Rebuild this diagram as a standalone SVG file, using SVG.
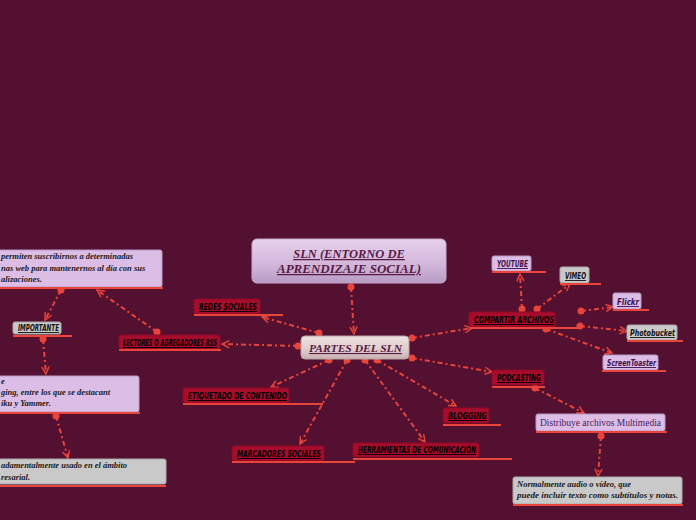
<svg xmlns="http://www.w3.org/2000/svg" width="696" height="520" viewBox="0 0 696 520">
<defs>
<linearGradient id="gRoot" x1="0" y1="0" x2="0" y2="1"><stop offset="0" stop-color="#e6d0ec"/><stop offset="0.6" stop-color="#d2b6da"/><stop offset="1" stop-color="#b89ac2"/></linearGradient>
<linearGradient id="gMain" x1="0" y1="0" x2="0" y2="1"><stop offset="0" stop-color="#f0e2e2"/><stop offset="0.6" stop-color="#e0cccc"/><stop offset="1" stop-color="#c8b0b2"/></linearGradient>
<marker id="ah" viewBox="0 0 10 10" refX="9" refY="5" markerWidth="9" markerHeight="9" markerUnits="userSpaceOnUse" orient="auto"><path d="M1,1 L9,5 L1,9" fill="none" stroke="#e8443a" stroke-width="1.6"/></marker>
<style>
.bg{fill:#541030}
.red{fill:#a80c2c;stroke:#8a0a24;stroke-width:1}
.lav{fill:#dcbde6;stroke:#b898c4;stroke-width:1}
.gray{fill:#c9c9c9;stroke:#a8a8a8;stroke-width:1}
.ul{stroke:#e8443a;stroke-width:2}
.rt{font-family:"DejaVu Sans Condensed","DejaVu Sans",sans-serif;font-weight:bold;font-style:italic;font-size:9px;fill:#000;text-decoration:underline}
.lt{font-family:"DejaVu Sans Condensed","DejaVu Sans",sans-serif;font-weight:bold;font-style:italic;font-size:9px;fill:#3a1050;text-decoration:underline}
.gt{font-family:"DejaVu Sans Condensed","DejaVu Sans",sans-serif;font-weight:bold;font-style:italic;font-size:9px;fill:#111;text-decoration:underline}
.dt{font-family:"Liberation Serif",serif;font-weight:bold;font-style:italic;font-size:8.5px;fill:#1a1a1a}
.c{fill:none;stroke:#e8443a;stroke-width:2;stroke-dasharray:5,3,2,3;marker-end:url(#ah)}
.dot{fill:#e8443a}
</style>
</defs>
<rect class="bg" x="0" y="0" width="696" height="520"/>

<g id="connectors">
<line class="c" x1="351" y1="287" x2="354" y2="334"/>
<line class="c" x1="319" y1="333" x2="262" y2="317"/>
<line class="c" x1="298" y1="346" x2="222" y2="344"/>
<line class="c" x1="329" y1="360" x2="271" y2="387"/>
<line class="c" x1="347" y1="360" x2="300" y2="444"/>
<line class="c" x1="365" y1="360" x2="425" y2="442"/>
<line class="c" x1="377" y1="360" x2="456" y2="406"/>
<line class="c" x1="412" y1="358" x2="492" y2="372"/>
<line class="c" x1="412" y1="338" x2="472" y2="328"/>
<line class="c" x1="157" y1="332" x2="97" y2="290"/>
<line class="c" x1="61" y1="290" x2="45" y2="320"/>
<line class="c" x1="43" y1="339" x2="46" y2="374"/>
<line class="c" x1="56" y1="416" x2="68" y2="458"/>
<line class="c" x1="522" y1="309" x2="520" y2="274"/>
<line class="c" x1="537" y1="309" x2="570" y2="284"/>
<line class="c" x1="581" y1="311" x2="613" y2="307"/>
<line class="c" x1="580" y1="326" x2="627" y2="331"/>
<line class="c" x1="546" y1="329" x2="612" y2="353"/>
<line class="c" x1="535" y1="388" x2="584" y2="413"/>
<line class="c" x1="601" y1="436" x2="598" y2="476"/>
<circle class="dot" cx="351" cy="287" r="3.5"/>
<circle class="dot" cx="319" cy="333" r="3.5"/>
<circle class="dot" cx="298" cy="346" r="3.5"/>
<circle class="dot" cx="329" cy="360" r="3.5"/>
<circle class="dot" cx="347" cy="360" r="3.5"/>
<circle class="dot" cx="365" cy="360" r="3.5"/>
<circle class="dot" cx="377" cy="360" r="3.5"/>
<circle class="dot" cx="412" cy="358" r="3.5"/>
<circle class="dot" cx="412" cy="338" r="3.5"/>
<circle class="dot" cx="157" cy="332" r="3.5"/>
<circle class="dot" cx="61" cy="290" r="3.5"/>
<circle class="dot" cx="43" cy="339" r="3.5"/>
<circle class="dot" cx="56" cy="416" r="3.5"/>
<circle class="dot" cx="522" cy="309" r="3.5"/>
<circle class="dot" cx="537" cy="309" r="3.5"/>
<circle class="dot" cx="581" cy="311" r="3.5"/>
<circle class="dot" cx="580" cy="326" r="3.5"/>
<circle class="dot" cx="546" cy="329" r="3.5"/>
<circle class="dot" cx="535" cy="388" r="3.5"/>
<circle class="dot" cx="601" cy="436" r="3.5"/>
</g>

<g id="root">
<rect x="252" y="239" width="194" height="44" rx="5" fill="url(#gRoot)" stroke="#c6a8ce" stroke-width="1"/>
<text x="349" y="258" text-anchor="middle" font-family="Liberation Serif, serif" font-weight="bold" font-style="italic" font-size="12.5" fill="#5a1a44" text-decoration="underline">SLN (ENTORNO DE </text>
<text x="349" y="273" text-anchor="middle" font-family="Liberation Serif, serif" font-weight="bold" font-style="italic" font-size="12.5" fill="#5a1a44" text-decoration="underline" textLength="144" lengthAdjust="spacingAndGlyphs">APRENDIZAJE SOCIAL)</text>
</g>

<g id="partes">
<rect x="301" y="336" width="108" height="23" rx="4" fill="url(#gMain)" stroke="#b8a0a4" stroke-width="1"/>
<text x="355.5" y="352" text-anchor="middle" font-family="Liberation Serif, serif" font-weight="bold" font-style="italic" font-size="11" fill="#5a1a44" text-decoration="underline" textLength="93" lengthAdjust="spacingAndGlyphs">PARTES DEL SLN</text>
</g>

<g id="redes">
<rect class="red" x="194" y="299" width="66" height="15" rx="2"/>
<line class="ul" x1="194" y1="315" x2="283" y2="315"/>
<text class="rt" x="199" y="310" textLength="58" lengthAdjust="spacingAndGlyphs">REDES SOCIALES</text>
</g>

<g id="lectores">
<rect class="red" x="119" y="335" width="101" height="14" rx="2"/>
<line class="ul" x1="119" y1="350" x2="221" y2="350"/>
<text class="rt" x="123" y="346" textLength="94" lengthAdjust="spacingAndGlyphs">LECTORES O AGREGADORES RSS</text>
</g>

<g id="etiquetado">
<rect class="red" x="183" y="388" width="106" height="15" rx="2"/>
<line class="ul" x1="183" y1="404" x2="323" y2="404"/>
<text class="rt" x="188" y="399" textLength="99" lengthAdjust="spacingAndGlyphs">ETIQUETADO DE CONTENIDO</text>
</g>

<g id="marcadores">
<rect class="red" x="232" y="446" width="92" height="15" rx="2"/>
<line class="ul" x1="232" y1="462" x2="355" y2="462"/>
<text class="rt" x="237" y="457" textLength="84" lengthAdjust="spacingAndGlyphs">MARCADORES SOCIALES</text>
</g>

<g id="herramientas">
<rect class="red" x="353" y="443" width="126" height="14" rx="2"/>
<line class="ul" x1="353" y1="459" x2="512" y2="459"/>
<text class="rt" x="358" y="453" textLength="118" lengthAdjust="spacingAndGlyphs">HERRAMIENTAS DE COMUNICACIÓN</text>
</g>

<g id="blogging">
<rect class="red" x="443" y="408" width="46" height="15" rx="2"/>
<line class="ul" x1="443" y1="425" x2="501" y2="425"/>
<text class="rt" x="448" y="419" textLength="39" lengthAdjust="spacingAndGlyphs">BLOGGING</text>
</g>

<g id="podcasting">
<rect class="red" x="492" y="370" width="52" height="15" rx="2"/>
<line class="ul" x1="492" y1="387" x2="545" y2="387"/>
<text class="rt" x="497" y="381" textLength="44" lengthAdjust="spacingAndGlyphs">PODCASTING</text>
</g>

<g id="compartir">
<rect class="red" x="469" y="312" width="86" height="15" rx="2"/>
<line class="ul" x1="469" y1="328" x2="581" y2="328"/>
<text class="rt" x="474" y="323" textLength="80" lengthAdjust="spacingAndGlyphs">COMPARTIR ARCHIVOS</text>
</g>

<g id="lectores-desc">
<rect class="lav" x="-4" y="250" width="166" height="37" rx="2"/>
<line class="ul" x1="0" y1="288" x2="163" y2="288"/>
<text class="dt" x="1" y="259">permiten suscribirnos a determinadas</text>
<text class="dt" x="1" y="271">nas web para mantenernos al día con sus</text>
<text class="dt" x="1" y="282">alizaciones.</text>
</g>

<g id="importante">
<rect class="gray" x="13" y="322" width="48" height="12" rx="2"/>
<line class="ul" x1="13" y1="336" x2="72" y2="336"/>
<text class="gt" x="18" y="331" textLength="41" lengthAdjust="spacingAndGlyphs" font-size="8">IMPORTANTE</text>
</g>

<g id="microblog-desc">
<rect class="lav" x="-4" y="376" width="143" height="36" rx="2"/>
<line class="ul" x1="0" y1="413" x2="140" y2="413"/>
<text class="dt" x="1" y="384">e</text>
<text class="dt" x="1" y="395">ging, entre los que se destacant</text>
<text class="dt" x="1" y="406">iku y Yammer.</text>
</g>

<g id="empresarial-desc">
<rect class="gray" x="-4" y="459" width="170" height="25" rx="2"/>
<line class="ul" x1="0" y1="486" x2="166" y2="486"/>
<text class="dt" x="1" y="468">adamentalmente usado en el ámbito</text>
<text class="dt" x="1" y="480">resarial.</text>
</g>

<g id="youtube">
<rect class="lav" x="492" y="256" width="39" height="15" rx="2"/>
<line class="ul" x1="492" y1="272" x2="546" y2="272"/>
<text class="lt" x="497" y="267" textLength="31" lengthAdjust="spacingAndGlyphs">YOUTUBE</text>
</g>

<g id="vimeo">
<rect class="gray" x="560" y="267" width="29" height="16" rx="2"/>
<line class="ul" x1="560" y1="284" x2="601" y2="284"/>
<text class="gt" x="565" y="279" textLength="21" lengthAdjust="spacingAndGlyphs">VIMEO</text>
</g>

<g id="flickr">
<rect class="lav" x="613" y="293" width="28" height="16" rx="2"/>
<line class="ul" x1="613" y1="310" x2="649" y2="310"/>
<text class="lt" x="617" y="305" textLength="22" lengthAdjust="spacingAndGlyphs">Flickr</text>
</g>

<g id="photobucket">
<rect class="gray" x="627" y="325" width="50" height="15" rx="2"/>
<line class="ul" x1="627" y1="341" x2="683" y2="341"/>
<text class="gt" x="630" y="336" textLength="45" lengthAdjust="spacingAndGlyphs">Photobucket</text>
</g>

<g id="screentoaster">
<rect class="lav" x="603" y="355" width="55" height="15" rx="2"/>
<line class="ul" x1="602" y1="371" x2="666" y2="371"/>
<text class="lt" x="607" y="366" textLength="49" lengthAdjust="spacingAndGlyphs">ScreenToaster</text>
</g>

<g id="distribuye">
<rect class="lav" x="536" y="414" width="129" height="17" rx="2"/>
<line class="ul" x1="536" y1="432" x2="667" y2="432"/>
<text x="540" y="426" font-family="Liberation Serif, serif" font-size="10" fill="#4a2060" textLength="121" lengthAdjust="spacingAndGlyphs">Distribuye archivos Multimedia</text>
</g>

<g id="normalmente">
<rect class="gray" x="513" y="477" width="169" height="27" rx="2"/>
<line class="ul" x1="513" y1="505" x2="683" y2="505"/>
<text class="dt" x="517" y="487">Normalmente audio o vídeo, que</text>
<text class="dt" x="517" y="498" textLength="161" lengthAdjust="spacingAndGlyphs">puede incluir texto como subtítulos y notas.</text>
</g>
</svg>
